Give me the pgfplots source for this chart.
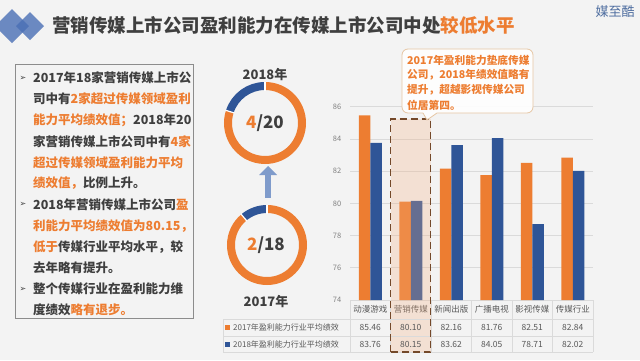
\documentclass[border=0pt]{standalone}
\usepackage{pgfplots}
\pgfplotsset{compat=1.18}
\usepackage{fontspec}
\setmainfont{Noto Sans CJK SC}
\newfontfamily\sym{DejaVu Sans}
\definecolor{orng}{HTML}{ED7D31}
\definecolor{blu}{HTML}{2F5597}
\definecolor{dk}{HTML}{3F3F3F}
\definecolor{gr}{HTML}{595959}
\definecolor{tickgray}{HTML}{808080}
\definecolor{bg}{HTML}{F3F3F3}
\definecolor{gridc}{HTML}{DADADA}
\definecolor{logo}{HTML}{4A6FB5}
\definecolor{logotext}{HTML}{4F6EA0}
\definecolor{boxgray}{HTML}{8C8C8C}
\definecolor{arrowblue}{HTML}{7F9BCB}
\definecolor{peach}{HTML}{F4B183}
\definecolor{brownd}{HTML}{74492A}
\definecolor{callout}{HTML}{E6C6A4}
\newcommand{\fs}[1]{\fontsize{#1}{#1}\selectfont}
\newcommand{\tl}[2]{\node[anchor=west,inner sep=0,font=\fs{12.5}\bfseries,text=dk] at (33,#1) {#2};}
\newcommand{\bul}[1]{\node[font=\sym\fs{8},text=dk,inner sep=0] at (23,#1) {➢};}
\begin{document}
\begin{tikzpicture}[x=1pt,y=1pt]
\useasboundingbox (0,0) rectangle (640,360);
\fill[bg] (0,0) rectangle (640,360);
% logo
\begin{scope}
\clip (0,0) rectangle (640,360);
\fill[logo, opacity=0.8] (12,351)--(29,334)--(12,317)--(-5,334)--cycle;
\fill[logo, opacity=0.8] (30,348)--(44,334)--(30,320)--(16,334)--cycle;
\end{scope}
% title
\node[anchor=west, inner sep=0, font=\fs{18.5}\bfseries, text=dk] at (52,335) {营销传媒上市公司盈利能力在传媒上市公司中处\textcolor{orng}{较低水平}};
\node[font=\fs{13}, text=logotext, inner sep=0] at (615,348) {媒至酷};
% left text box
\draw[boxgray, line width=0.8pt] (15,296) rectangle (193,42);
\bul{282}\bul{155.4}\bul{71}
\tl{282}{2017年18家营销传媒上市公}
\tl{260.9}{司中有\textcolor{orng}{2家超过传媒领域盈利}}
\tl{239.8}{\textcolor{orng}{能力平均绩效值；}2018年20}
\tl{218.7}{家营销传媒上市公司中有\textcolor{orng}{4家}}
\tl{197.6}{\textcolor{orng}{超过传媒领域盈利能力平均}}
\tl{176.5}{\textcolor{orng}{绩效值，}比例上升。}
\tl{155.4}{2018年营销传媒上市公司\textcolor{orng}{盈}}
\tl{134.3}{\textcolor{orng}{利能力平均绩效值为80.15，}}
\tl{113.2}{\textcolor{orng}{低于}传媒行业平均水平，较}
\tl{92.1}{去年略有提升。}
\tl{71}{整个传媒行业在盈利能力维}
\tl{49.9}{度绩效\textcolor{orng}{略有退步。}}
% donut 2018
\draw[orng, line width=8pt] (265,237) ++(90:37) arc[start angle=90, end angle={90-360*16/20}, radius=37];
\draw[blu, line width=8pt] (265,237) ++(90:37) arc[start angle=90, end angle={90+360*4/20}, radius=37];
\draw[white, line width=1.2pt] (265,237) ++(90:32.5) -- ++(90:9);
\draw[white, line width=1.2pt] (265,237) ++({90+360*4/20}:32.5) -- ++({90+360*4/20}:9);
\node[font=\fs{17}\bfseries, text=dk] at (265,237) {\textcolor{orng}{4}/20};
\node[font=\fs{13}\bfseries, text=dk] at (265,285) {2018年};
% donut 2017
\draw[orng, line width=8pt] (267,115) ++(90:36) arc[start angle=90, end angle={90-360*16/18}, radius=36];
\draw[blu, line width=8pt] (267,115) ++(90:36) arc[start angle=90, end angle={90+360*2/18}, radius=36];
\draw[white, line width=1.2pt] (267,115) ++(90:31.5) -- ++(90:9);
\draw[white, line width=1.2pt] (267,115) ++({90+360*2/18}:31.5) -- ++({90+360*2/18}:9);
\node[font=\fs{17}\bfseries, text=dk] at (266,115) {\textcolor{orng}{2}/18};
\node[font=\fs{13}\bfseries, text=dk] at (266,58) {2017年};
% arrow
\fill[arrowblue] (265,162) rectangle (271,185);
\fill[arrowblue] (259,185) -- (277,185) -- (268,194) -- cycle;
% chart
\begin{axis}[at={(350pt,60pt)}, anchor=south west, width=243pt, height=193.3pt, scale only axis,
  xmin=-0.5, xmax=5.5, ymin=74, ymax=86, ytick={74,76,...,86},
  xtick={0,...,5}, xticklabels={动漫游戏,营销传媒,新闻出版,广播电视,影视传媒,传媒行业},
  axis line style={draw=none}, major tick length=0,
  ymajorgrids, grid style={gridc, line width=0.6pt},
  /pgf/number format/assume math mode=true,
  yticklabel style={font=\fs{7.5}, text=tickgray, anchor=center, xshift=-13pt},
  xticklabel style={font=\fs{8.5}, text=gr, anchor=center, yshift=-9.5pt},
]
\addplot[ybar, bar width=11.5pt, bar shift=-5.75pt, fill=orng, draw=none] coordinates {(0,85.46)(1,80.10)(2,82.16)(3,81.76)(4,82.51)(5,82.84)};
\addplot[ybar, bar width=11.5pt, bar shift=5.75pt, fill=blu, draw=none] coordinates {(0,83.76)(1,80.15)(2,83.62)(3,84.05)(4,78.71)(5,82.02)};
\end{axis}
% highlight fill
\fill[peach, fill opacity=0.28] (390.5,8) rectangle (430.5,241);
% data table
\begin{scope}[gridc, line width=0.6pt]
\draw (223,41) -- (593,41);
\draw (223,24) -- (593,24);
\draw (223,8) -- (593,8);
\draw (223,41) -- (223,8);
\foreach \x in {350,390.5,431,471.5,512,552.5,593} {\draw (\x,60) -- (\x,8);}
\end{scope}
\fill[orng] (225,30) rectangle (230,35);
\fill[blu] (225,13.5) rectangle (230,18.5);
\node[anchor=west, inner sep=0, font=\fs{8}, text=gr] at (233,32.5) {2017年盈利能力行业平均绩效};
\node[anchor=west, inner sep=0, font=\fs{8}, text=gr] at (233,16) {2018年盈利能力行业平均绩效};
\foreach \x/\a/\b in {370.25/85.46/83.76, 410.75/80.10/80.15, 451.25/82.16/83.62, 491.75/81.76/84.05, 532.25/82.51/78.71, 572.75/82.84/82.02} {
  \node[font=\fs{8.5}, text=gr] at (\x,32.5) {\a};
  \node[font=\fs{8.5}, text=gr] at (\x,16) {\b};
}
% dashed highlight
\draw[brownd, line width=1.8pt, dash pattern=on 7pt off 4pt] (390.5,8) rectangle (430.5,241);
% callout
\filldraw[fill=white, fill opacity=0.9, draw=callout, line width=0.8pt] (423,247) -- (427,240) -- (437,247) [rounded corners=6pt] -- (533,247) -- (533,311) -- (402,311) -- (402,247) -- (423,247);
\foreach \y/\t in {300/2017年盈利能力垫底传媒, 285/公司，2018年绩效值略有, 270/提升，超越影视传媒公司, 255/位居第四。} {
  \node[anchor=west, inner sep=0, font=\fs{10.7}\bfseries, text=orng] at (407,\y) {\t};
}
\end{tikzpicture}
\end{document}
